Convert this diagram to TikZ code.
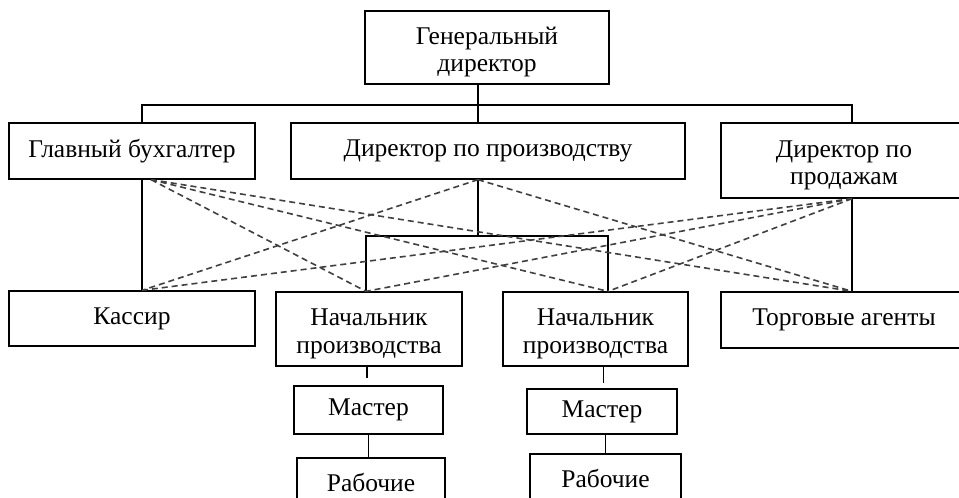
\documentclass[tikz,border=0pt]{standalone}
\usepackage{fontspec}
\setmainfont{Liberation Serif}
\newcommand{\topstrut}{\rule{0pt}{26pt}}
\begin{document}
\begin{tikzpicture}[x=1pt,y=-1pt,
		box/.style={draw, line width=1.3pt, inner sep=0pt, align=center, font=\fontsize{25.5}{27.5}\selectfont},
		link/.style={line width=1.3pt},
		dashlink/.style={line width=1.6pt, black!75, dash pattern=on 6pt off 4pt}]
	\clip (0,0) rectangle (959,498);
	% boxes
	\node [box, minimum width=244, minimum height=73] (gen)    at (487,47.5)  {\topstrut Генеральный\\директор};
	\node [box, minimum width=246, minimum height=56] (buh)    at (132,151)   {Главный бухгалтер};
	\node [box, minimum width=394, minimum height=56] (proizv) at (488,151)   {Директор по производству};
	\node [box, minimum width=246, minimum height=75] (prod)   at (844,160.5) {\topstrut Директор по\\продажам};
	\node [box, minimum width=246, minimum height=55] (kassir) at (132,318.5) {Кассир};
	\node [box, minimum width=186, minimum height=74] (nach1)  at (369,329)   {\topstrut Начальник\\производства};
	\node [box, minimum width=185, minimum height=74] (nach2)  at (595.5,329) {\topstrut Начальник\\производства};
	\node [box, minimum width=246, minimum height=56] (agent)  at (844,320)   {Торговые агенты};
	\node [box, minimum width=149, minimum height=48] (master1) at (368.5,410) {Мастер};
	\node [box, minimum width=150, minimum height=45] (master2) at (602,411.5) {Мастер};
	\node [box, minimum width=148, minimum height=48] (rab1)   at (371,482)   {Рабочие};
	\node [box, minimum width=151, minimum height=48] (rab2)   at (605.5,478) {Рабочие};
	% attachment points
	\coordinate (buh-t)    at ([xshift=10]buh.north);
	\coordinate (buh-b)    at ([xshift=10]buh.south);
	\coordinate (buh-d)    at ([xshift=19]buh.south);
	\coordinate (proizv-t) at ([xshift=-10]proizv.north);
	\coordinate (proizv-b) at ([xshift=-10]proizv.south);
	\coordinate (prod-t)   at ([xshift=8]prod.north);
	\coordinate (prod-b)   at ([xshift=8]prod.south);
	\coordinate (kassir-t) at ([xshift=10]kassir.north);
	\coordinate (nach1-t)  at ([xshift=-3]nach1.north);
	\coordinate (nach2-t)  at ([xshift=12.5]nach2.north);
	\coordinate (agent-t)  at ([xshift=8]agent.north);
	\coordinate (gen-b)    at (proizv-t |- gen.south);
	\coordinate (bus)      at (proizv-t |- 0,105);
	\coordinate (split)    at (proizv-b |- 0,236);
	% solid lines
	\draw [link] (gen-b) -- (proizv-t);
	\draw [link] (buh-t) |- (bus) -| (prod-t);
	\draw [link] (buh-b) -- (kassir-t);
	\draw [link] (prod-b) -- (agent-t);
	\draw [link] (proizv-b) -- (split);
	\draw [link] (nach1-t) |- (split) -| (nach2-t);
	\draw [link, shorten >=7pt] ([xshift=-2]nach1.south) -- ([xshift=-2]nach1.south |- master1.north);
	\draw [link, shorten >=5pt] ([xshift=8]nach2.south) -- ([xshift=8]nach2.south |- master2.north);
	\draw [link] (master1.south) -- (master1.south |- rab1.north);
	\draw [link] (rab2.north |- master2.south) -- (rab2.north);
	% dashed lines
	\foreach \a/\b in {buh-d/nach1-t, buh-d/nach2-t, buh-d/agent-t,
			prod-b/kassir-t, prod-b/nach1-t, prod-b/nach2-t,
			proizv-b/kassir-t, proizv-b/agent-t} {
		\draw [dashlink] (\a) -- (\b);
	}
\end{tikzpicture}
\end{document}
